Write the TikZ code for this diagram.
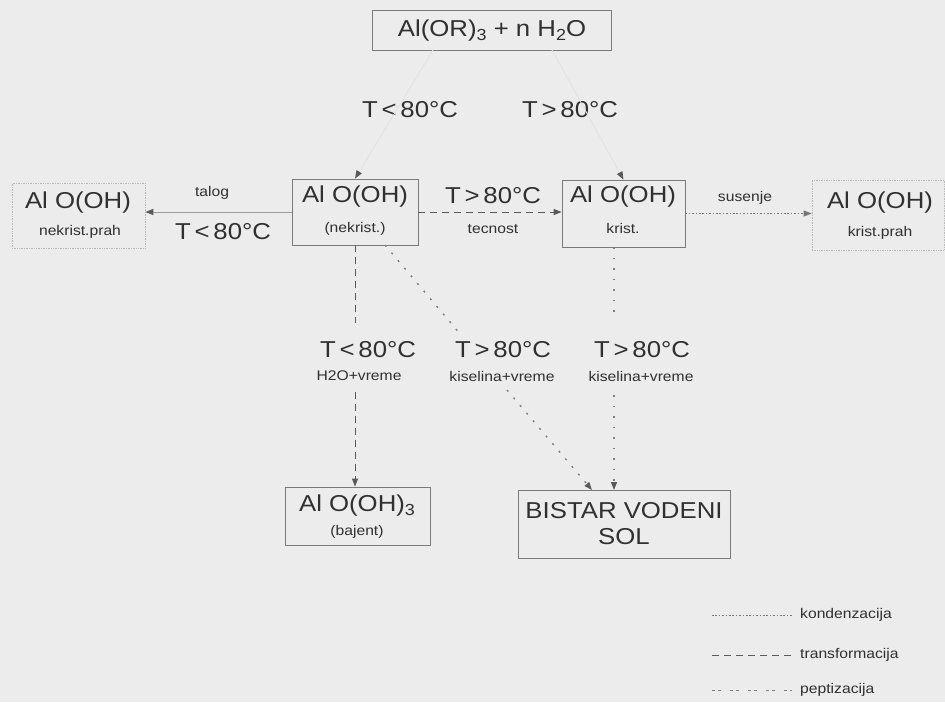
\documentclass[tikz,border=0pt]{standalone}
\usepackage{fontspec}
\setmainfont{Liberation Sans}[FakeStretch=1.12]
\usetikzlibrary{arrows.meta}
\definecolor{bgc}{HTML}{ECECEC}
\definecolor{txt}{HTML}{303030}
\definecolor{boxc}{HTML}{7A7A7A}
\definecolor{linec}{HTML}{5A5A5A}
\newcommand\bigf{\fontsize{23}{26}\selectfont}
\newcommand\smf{\fontsize{14}{16}\selectfont}
\newcommand\subn[1]{\raisebox{-4pt}{\fontsize{16}{16}\selectfont #1}}
\tikzset{
  box/.style={draw=boxc, line width=0.8pt, rectangle, inner sep=0pt},
  faintbox/.style={draw=boxc!45!bgc, line width=0.7pt, rectangle, inner sep=0pt},
  bt/.style={text=txt, font=\bigf, inner sep=0pt},
  st/.style={text=txt, font=\smf, inner sep=0pt},
  tip/.style={-{Triangle[length=8pt,width=6pt]}},
  ctip/.style={-{Triangle[length=8pt,width=6pt,color=linec]}},
  solidln/.style={draw=linec!55!bgc, line width=1pt},
  transf/.style={draw=linec, line width=0.9pt, dash pattern=on 7pt off 5pt},
  konden/.style={draw=linec!80!bgc, line width=0.9pt, dash pattern=on 1.6pt off 1.8pt},
  pepti/.style={draw=linec!75!bgc, line width=1.4pt, dash pattern=on 2pt off 8pt},
  faintln/.style={draw=linec!7!bgc, line width=0.8pt},
}
\begin{document}
\begin{tikzpicture}[x=1pt,y=-1pt]
\fill[bgc] (0,0) rectangle (945,702);
\useasboundingbox (0,0) rectangle (945,702);

% boxes
\node[box, minimum width=239pt, minimum height=40pt] (top) at (492,30) {};
\node[bt] (toptxt) at (492,31) {Al(OR)\subn{3} + n H\subn{2}O};

\node[box, minimum width=126pt, minimum height=66pt] (nekrist) at (355,212) {};
\node[bt] (nk1) at (355,197) {Al O(OH)};
\node[st] (nk2) at (355,229) {(nekrist.)};

\node[faintbox, densely dotted, minimum width=133pt, minimum height=65pt] (neprah) at (78.5,215.5) {};
\node[bt] (np1) at (78,203) {Al O(OH)};
\node[st] (np2) at (80,232) {nekrist.prah};

\node[box, minimum width=123pt, minimum height=67pt] (krist) at (623.5,213.5) {};
\node[bt] (kr1) at (623,197) {Al O(OH)};
\node[st] (kr2) at (623,228) {krist.};

\node[faintbox, densely dotted, minimum width=132pt, minimum height=70pt] (kprah) at (878,215) {};
\node[bt] (kp1) at (880,203) {Al O(OH)};
\node[st] (kp2) at (880,233) {krist.prah};

\node[box, minimum width=145pt, minimum height=58pt] (bajent) at (357.5,516) {};
\node[bt] (bj1) at (357,506) {Al O(OH)\subn{3}};
\node[st] (bj2) at (357,532) {(bajent)};

\node[box, minimum width=212pt, minimum height=68pt] (sol) at (624,524) {};
\node[bt] (so1) at (624,511) {BISTAR VODENI};
\node[bt] (so2) at (624,537) {SOL};

% top labels
\node[bt] (tl1) at (410,110) {T\,<\,80°C};
\node[bt] (tl2) at (570,110) {T\,>\,80°C};

% connectors from top (nearly faded in the original)
\coordinate (ta) at (433,50);
\coordinate (tb) at (552,50);
\draw[faintln, ctip] (ta) -- (nekrist.north);
\draw[faintln, ctip] (tb) -- (krist.north);

% horizontal connectors
\draw[solidln, ctip] (nekrist.west) -- (neprah.east |- nekrist.west);
\node[st] (talog) at (212,193) {talog};
\node[bt] (tl3) at (223,232) {T\,<\,80°C};

\draw[transf, tip] (nekrist.east) -- (krist.west |- nekrist.east);
\node[bt, fill=bgc, inner sep=1pt] (tl4) at (493,196) {T\,>\,80°C};
\node[st] (tec) at (493,229) {tecnost};

\draw[konden, tip] (krist.east) -- (kprah.west |- krist.east);
\node[st] (sus) at (745,198) {susenje};

% downward connectors
\coordinate (g1) at (355,323);
\coordinate (g2) at (355,392);
\draw[transf] (nekrist.south) -- (g1);
\draw[transf, tip] (g2) -- (bajent.north -| g2);

\coordinate (d0) at (385,245);
\coordinate (d1) at (461,335);
\coordinate (d2) at (507,390);
\coordinate (d3) at (592,490);
\draw[pepti] (d0) -- (d1);
\draw[pepti, ctip] (d2) -- (d3);

\coordinate (k0) at (614,247);
\coordinate (k1) at (614,320);
\coordinate (k2) at (614,395);
\coordinate (k3) at (614,490);
\draw[pepti, dash pattern=on 1.5pt off 9pt] (k0) -- (k1);
\draw[pepti, dash pattern=on 1.5pt off 9pt, ctip] (k2) -- (k3);

% middle labels
\node[bt] (m1) at (368,350) {T\,<\,80°C};
\node[st] (m2) at (359,376) {H2O+vreme};
\node[bt] (m3) at (503,350) {T\,>\,80°C};
\node[st] (m4) at (502,376) {kiselina+vreme};
\node[bt] (m5) at (642,350) {T\,>\,80°C};
\node[st] (m6) at (641,376) {kiselina+vreme};

% legend
\coordinate (la1) at (712,615); \coordinate (lb1) at (792,615);
\coordinate (la2) at (712,655); \coordinate (lb2) at (792,655);
\coordinate (la3) at (712,690); \coordinate (lb3) at (792,690);
\draw[konden] (la1) -- (lb1);
\draw[transf] (la2) -- (lb2);
\draw[draw=linec!75!bgc, line width=0.9pt, dash pattern=on 3pt off 3pt on 3pt off 9pt] (la3) -- (lb3);
\node[st, anchor=west] (lg1) at (800,615) {kondenzacija};
\node[st, anchor=west] (lg2) at (800,655) {transformacija};
\node[st, anchor=west] (lg3) at (800,690) {peptizacija};
\end{tikzpicture}
\end{document}
